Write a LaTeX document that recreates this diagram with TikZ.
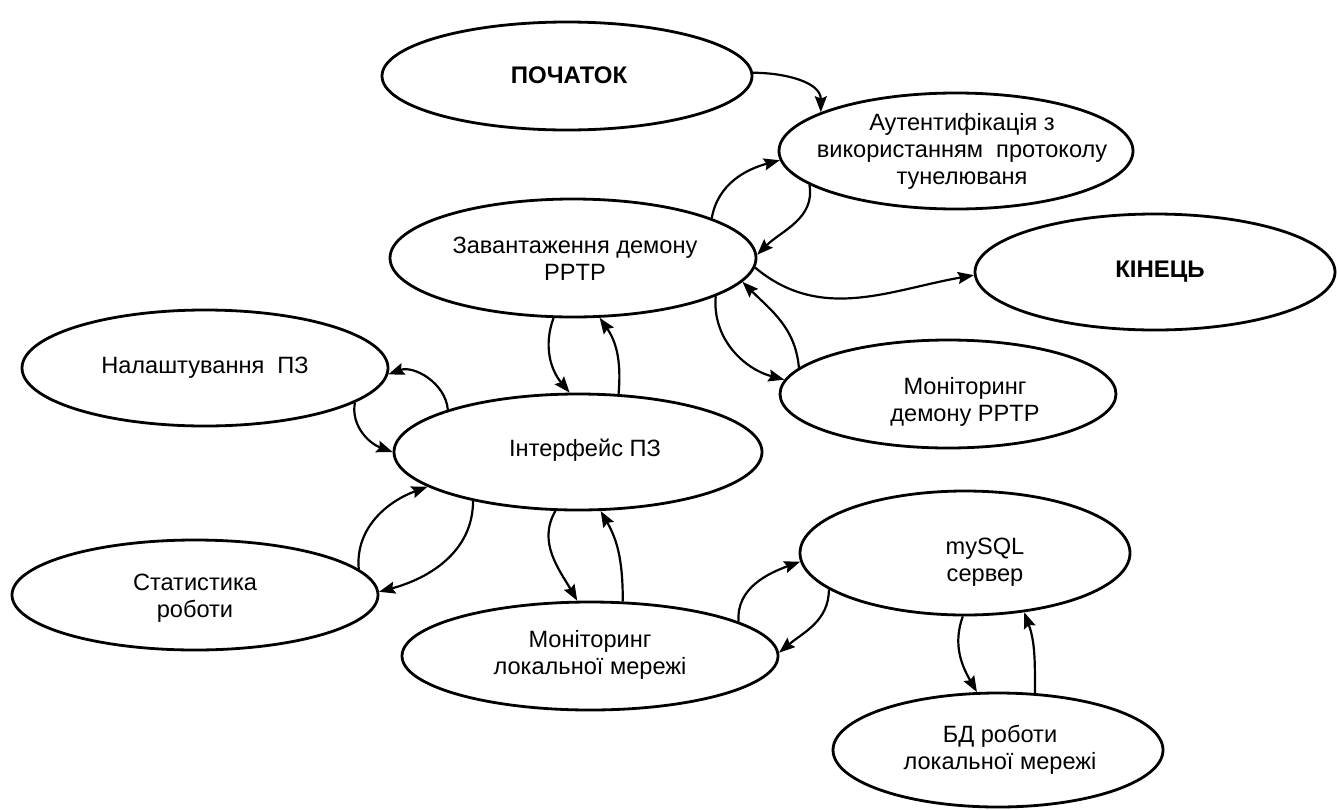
\documentclass[tikz,border=0pt]{standalone}
\usepackage{fontspec}
\setmainfont{Liberation Sans}
\usetikzlibrary{arrows.meta,shapes.geometric}

\begin{document}
\begin{tikzpicture}[>={Stealth[length=8pt,width=6pt,inset=1.2pt]},x=0.5pt,y=-0.5pt,
  stage/.style={draw,ellipse,line width=1.4pt,inner sep=0pt},
  lbl/.style={align=center,font=\fontsize{11.8}{13.5}\selectfont},
  ttl/.style={font=\fontsize{12}{14}\selectfont\bfseries},
  flow/.style={->,line width=1.1pt}]
\useasboundingbox (0,0) rectangle (1338,809);

% states
\node[stage,minimum width=185pt,minimum height=54pt] (poc) at (567,76) {};
\node[stage,minimum width=177pt,minimum height=58pt] (auth) at (956,151) {};
\node[stage,minimum width=183pt,minimum height=59pt] (zav) at (573,258) {};
\node[stage,minimum width=180pt,minimum height=58pt] (kin) at (1155,272) {};
\node[stage,minimum width=168pt,minimum height=54pt] (mon) at (948,394) {};
\node[stage,minimum width=183pt,minimum height=58pt] (nal) at (205,368) {};
\node[stage,minimum width=184pt,minimum height=58pt] (int) at (578,452) {};
\node[stage,minimum width=183pt,minimum height=55pt] (stat) at (195,595) {};
\node[stage,minimum width=188pt,minimum height=54pt] (mloc) at (590,656) {};
\node[stage,minimum width=165pt,minimum height=62pt] (sql) at (965,553) {};
\node[stage,minimum width=165pt,minimum height=57pt] (bd) at (998,750) {};

% texts
\node[ttl] (poc-t) at (569,75) {ПОЧАТОК};
\node[lbl] (auth-t) at (962,151) {Аутентифікація з\\використанням~~протоколу\\тунелюваня};
\node[lbl] (zav-t) at (575,259) {Завантаження демону\\PPTP};
\node[ttl] (kin-t) at (1160,272) {КІНЕЦЬ};
\node[lbl] (mon-t) at (965,402) {Моніторинг\\демону PPTP};
\node[lbl] (nal-t) at (205,368) {Налаштування~~ПЗ};
\node[lbl] (int-t) at (585,450) {Інтерфейс ПЗ};
\node[lbl] (stat-t) at (195,598) {Статистика\\роботи};
\node[lbl] (mloc-t) at (590,655) {Моніторинг\\локальної мережі};
\node[lbl] (sql-t) at (985,562) {mySQL\\сервер};
\node[lbl] (bd-t) at (1000,750) {БД роботи\\локальної мережі};

% transitions
\draw[flow] (poc.1) to[out=0,in=90] (auth.164);
\draw[flow] (zav.16) to[out=80,in=195] (auth.183);
\draw[flow] (auth.193) to[out=-80,in=45] (zav.1);
\draw[flow] (zav.-3) to[out=-40,in=190] (kin.181);
\draw[flow] (zav.-15) to[out=-95,in=165] (mon.175);
\draw[flow] (mon.170) to[out=95,in=-45] (zav.-8);
\draw[flow] (zav.-108) to[out=-110,in=130] (int.98);
\draw[flow] (int.55) to[out=85,in=-55] (zav.-66);
\draw[flow] (int.162) to[out=95,in=20] (nal.-2);
\draw[flow] (nal.-13) to[out=-100,in=160] (int.180);
\draw[flow] (stat.9) to[out=95,in=200] (int.193);
\draw[flow] (int.205) to[out=-90,in=15] (stat.1);
\draw[flow] (int.-111) to[out=-120,in=120] (mloc.103);
\draw[flow] (mloc.59) to[out=90,in=-60] (int.-69);
\draw[flow] (mloc.13) to[out=95,in=200] (sql.183);
\draw[flow] (sql.195) to[out=-90,in=40] (mloc.1);
\draw[flow] (sql.-92) to[out=-110,in=120] (bd.110);
\draw[flow] (bd.57) to[out=90,in=-70] (sql.-45);
\end{tikzpicture}
\end{document}
